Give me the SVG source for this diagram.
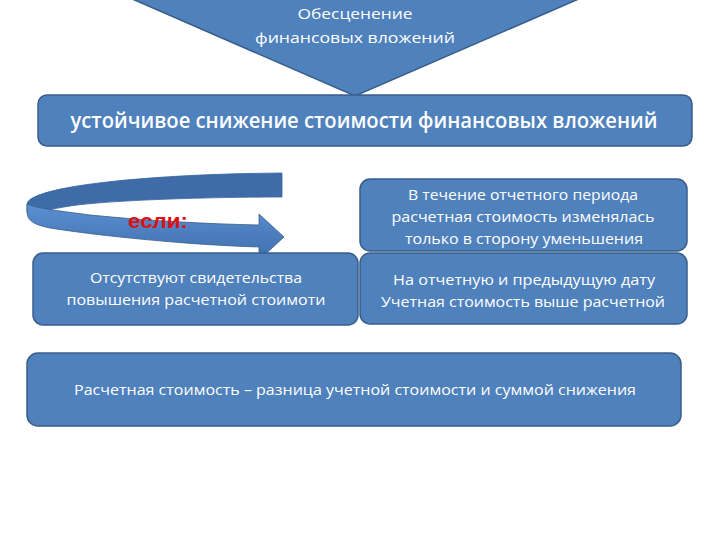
<svg xmlns="http://www.w3.org/2000/svg" width="720" height="540" viewBox="0 0 720 540">
<style>
.box{fill:#4F81BD;stroke:#385D8A;stroke-width:1.5}
.t{fill:#FFFFFF;font-family:"Open Sans","Liberation Sans",sans-serif;text-anchor:middle;font-size:14px}
.big{font-size:22px;font-weight:600}
.red{fill:#E01010;font-family:"Liberation Sans",sans-serif;font-weight:bold;font-size:21px}
</style>
<defs>
<linearGradient id="front" x1="0" y1="0" x2="0" y2="1">
<stop offset="0" stop-color="#5B8FD0"/>
<stop offset="1" stop-color="#3F6FAE"/>
</linearGradient>
</defs>
<rect width="720" height="540" fill="#FFFFFF"/>
<g id="connectors">
<path id="curved-arrow-back" d="M282,173 L282,197 C210,197 110,200 70,206 C50,209 40,213 27,212 L27,204 C30,186 150,174 282,173 Z" fill="#3F6CA8" stroke="#3A64A0" stroke-width="0.8"/>
<path id="curved-arrow-front" d="M27,204 C40,209 60,211 90,215 C150,221 210,224 259,225 L259,214 L284,237 L259,260 L259,247 C190,245 100,236 50,228 C35,225 27,221 27,212 Z" fill="url(#front)" stroke="#385D8A" stroke-width="0.8"/>
</g>
<g id="top-triangle">
<polygon class="box" points="130,-2 581,-2 355,96"/>
<text class="t" x="355" y="19" font-size="15" textLength="115" lengthAdjust="spacingAndGlyphs">Обесценение</text>
<text class="t" x="355" y="43" font-size="15" textLength="200" lengthAdjust="spacingAndGlyphs">финансовых вложений</text>
</g>
<g id="banner">
<rect class="box" x="38" y="95" width="654" height="51" rx="9"/>
<text class="t big" x="364" y="128" textLength="587" lengthAdjust="spacingAndGlyphs">устойчивое снижение стоимости финансовых вложений</text>
</g>
<g id="if-label">
<text class="red" x="128" y="228" textLength="60" lengthAdjust="spacingAndGlyphs">если:</text>
</g>
<g id="box-period">
<rect class="box" x="360" y="179" width="327" height="72" rx="10"/>
<text class="t" x="523" y="200" textLength="230" lengthAdjust="spacingAndGlyphs">В течение отчетного периода</text>
<text class="t" x="523" y="222" textLength="263" lengthAdjust="spacingAndGlyphs">расчетная стоимость изменялась</text>
<text class="t" x="524" y="244" textLength="238" lengthAdjust="spacingAndGlyphs">только в сторону уменьшения</text>
</g>
<g id="box-date">
<rect class="box" x="360" y="253" width="327" height="71" rx="10"/>
<text class="t" x="524" y="285" textLength="262" lengthAdjust="spacingAndGlyphs">На отчетную и предыдущую дату</text>
<text class="t" x="523" y="307" textLength="284" lengthAdjust="spacingAndGlyphs">Учетная стоимость выше  расчетной</text>
</g>
<g id="box-evidence">
<rect class="box" x="33" y="253" width="325" height="72" rx="10"/>
<text class="t" x="196" y="283" textLength="212" lengthAdjust="spacingAndGlyphs">Отсутствуют свидетельства</text>
<text class="t" x="196" y="305" textLength="259" lengthAdjust="spacingAndGlyphs">повышения  расчетной стоимоти</text>
</g>
<g id="box-definition">
<rect class="box" x="27" y="353" width="654" height="73" rx="11"/>
<text class="t" x="355" y="395" textLength="562" lengthAdjust="spacingAndGlyphs">Расчетная стоимость – разница учетной стоимости и суммой  снижения</text>
</g>
</svg>
